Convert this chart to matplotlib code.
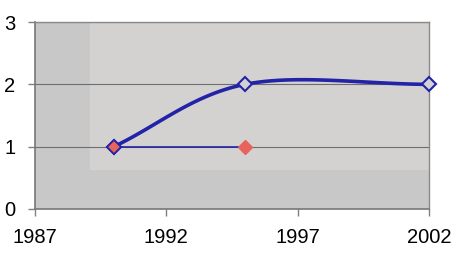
import numpy as np
import matplotlib.pyplot as plt
from matplotlib.patches import Rectangle

# ===== DATA =====
years_a = [1990, 1995, 2002]
values_a = [1, 2, 2]
years_b = [1990, 1995]
values_b = [1, 1]
xticks = [1987, 1992, 1997, 2002]
yticks = [0, 1, 2, 3]

BLUE = "#2323a8"
RED = "#e8635c"


def smooth(xs, ys, n=40):
    # Catmull-Rom style smoothing like spreadsheet "smoothed line"
    xs = np.asarray(xs, float)
    ys = np.asarray(ys, float)
    px = np.concatenate([[2 * xs[0] - xs[1]], xs, [2 * xs[-1] - xs[-2]]])
    py = np.concatenate([[2 * ys[0] - ys[1]], ys, [2 * ys[-1] - ys[-2]]])
    outx, outy = [], []
    for i in range(1, len(px) - 2):
        t = np.linspace(0, 1, n)
        p0, p1, p2, p3 = [np.array([px[j], py[j]]) for j in range(i - 1, i + 3)]
        c1 = p1 + (p2 - p0) / 6
        c2 = p2 - (p3 - p1) / 6
        pts = ((1 - t) ** 3)[:, None] * p1 + (3 * (1 - t) ** 2 * t)[:, None] * c1 \
            + (3 * (1 - t) * t ** 2)[:, None] * c2 + (t ** 3)[:, None] * p2
        outx.extend(pts[:, 0])
        outy.extend(pts[:, 1])
    return outx, outy


plt.rcParams['font.family'] = ['Liberation Sans', 'DejaVu Sans']

fig = plt.figure(figsize=(4.58, 2.56), dpi=100)
ax = fig.add_axes([35 / 458, 1 - 209 / 256, 394 / 458, 187 / 256])
ax.set_facecolor("#c8c8c8")
ax.add_patch(Rectangle((0.14, 0.21), 0.86, 0.79, transform=ax.transAxes,
                       facecolor="#d4d2d1", edgecolor="none", zorder=0))

ax.set_xlim(1987, 2002)
ax.set_ylim(0, 3)
ax.set_xticks(xticks)
ax.set_yticks(yticks)
ax.tick_params(labelsize=14.5, length=5, color="#808080", width=1)
ax.tick_params(axis='x', pad=9)
ax.tick_params(axis='y', pad=9)
for y in yticks[1:]:
    ax.axhline(y, color="#6e6e6e", lw=0.8, zorder=1)
for side in ["left", "bottom"]:
    ax.spines[side].set_color("#777777")
    ax.spines[side].set_linewidth(1.2)
for side in ["top", "right"]:
    ax.spines[side].set_color("#8a8a8a")
    ax.spines[side].set_linewidth(1)

sx, sy = smooth(years_a, values_a)
ax.plot(sx, sy, color=BLUE, lw=2.6, zorder=3, clip_on=False)
ax.plot(years_a, values_a, ls="none", marker="D", ms=7, mfc="#d4d2d1",
        mec=BLUE, mew=1.5, zorder=4, clip_on=False)

ax.plot(years_b, values_b, color=BLUE, lw=1.2, zorder=3)
ax.plot(years_b[:1], values_b[:1], ls="none", marker="D", ms=7, mfc=RED,
        mec=BLUE, mew=1.2, zorder=5)
ax.plot(years_b[1:], values_b[1:], ls="none", marker="D", ms=7, mfc=RED,
        mec=RED, zorder=5)

fig.savefig("out.png", dpi=100)
